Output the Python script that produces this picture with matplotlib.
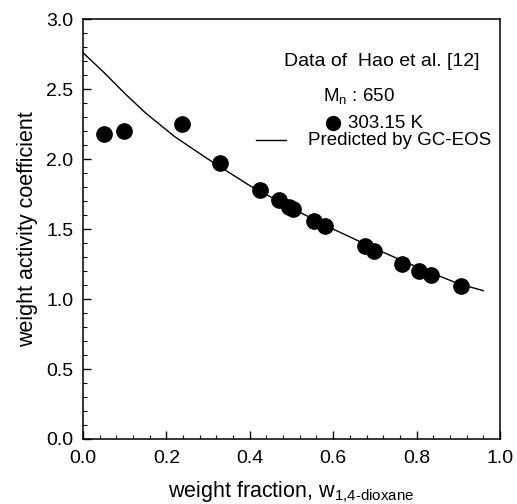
import matplotlib.pyplot as plt
from matplotlib.ticker import MultipleLocator

plt.rcParams['font.family'] = ['Liberation Sans', 'DejaVu Sans']
plt.rcParams['mathtext.fontset'] = 'custom'
plt.rcParams['mathtext.rm'] = 'Liberation Sans'

# experimental data, Hao et al. [12], 303.15 K
w_exp = [0.05, 0.098, 0.237, 0.329, 0.424, 0.469, 0.493, 0.504, 0.554, 0.580,
         0.676, 0.698, 0.766, 0.806, 0.835, 0.907]
gamma_exp = [2.18, 2.20, 2.25, 1.97, 1.78, 1.71, 1.66, 1.64, 1.56, 1.52,
             1.38, 1.34, 1.25, 1.20, 1.17, 1.09]

# GC-EOS prediction
w_pred = [0.0, 0.05, 0.1, 0.15, 0.22, 0.3, 0.4, 0.5, 0.6, 0.7, 0.8, 0.9, 0.96]
gamma_pred = [2.76, 2.62, 2.47, 2.33, 2.16, 2.00, 1.81, 1.65, 1.50, 1.36, 1.23, 1.11, 1.06]

fig = plt.figure(figsize=(5.17, 5.04), dpi=100)
ax = fig.add_axes([0.1605, 0.129, 0.8065, 0.833])

ax.plot(w_pred, gamma_pred, color='black', lw=1.0)
ax.plot(w_exp, gamma_exp, 'o', color='black', ms=11, ls='none')

ax.set_xlim(0, 1.0)
ax.set_ylim(0, 3.0)
ax.xaxis.set_major_locator(MultipleLocator(0.2))
ax.xaxis.set_minor_locator(MultipleLocator(0.04))
ax.yaxis.set_major_locator(MultipleLocator(0.5))
ax.yaxis.set_minor_locator(MultipleLocator(0.1))
ax.xaxis.set_major_formatter(plt.FormatStrFormatter('%.1f'))
ax.yaxis.set_major_formatter(plt.FormatStrFormatter('%.1f'))
ax.tick_params(which='both', direction='in', labelsize=14)
ax.tick_params(axis='x', pad=8)
ax.tick_params(axis='y', pad=7)
ax.tick_params(which='major', length=6, width=1)
ax.tick_params(which='minor', length=3, width=0.8)
for s in ax.spines.values():
    s.set_linewidth(1.1)

ax.set_xlabel(r'weight fraction, $\mathregular{w}_{\text{1,4-dioxane}}$', fontsize=15.5, labelpad=9)
ax.set_ylabel('weight activity coefficient', fontsize=15.5, labelpad=6)

# legend block
ax.text(0.482, 0.898, 'Data of  Hao et al. [12]', transform=ax.transAxes,
        fontsize=14, va='center')
ax.text(0.576, 0.814, r'$\mathregular{M}_{\text{n}}$ : 650', transform=ax.transAxes,
        fontsize=13.5, va='center')
ax.plot([0.600], [0.752], 'o', color='black', ms=10, transform=ax.transAxes)
ax.text(0.636, 0.752, '303.15 K', transform=ax.transAxes, fontsize=13.5, va='center')
ax.plot([0.415, 0.487], [0.712, 0.712], color='black', lw=1.0, transform=ax.transAxes)
ax.text(0.540, 0.712, 'Predicted by GC-EOS', transform=ax.transAxes,
        fontsize=13.5, va='center')

plt.savefig('out.png', dpi=100)
